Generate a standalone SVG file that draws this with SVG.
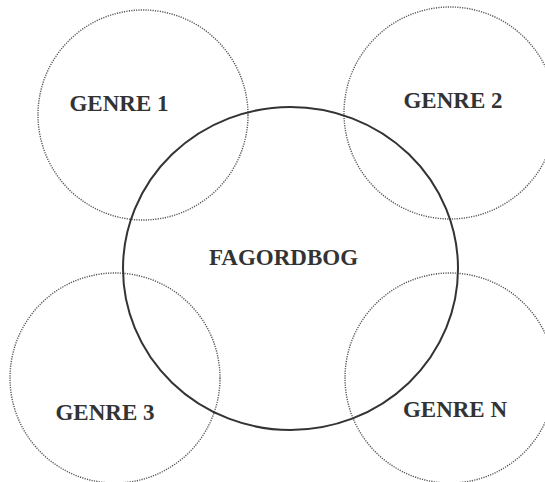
<svg xmlns="http://www.w3.org/2000/svg" width="545" height="482" viewBox="0 0 545 482">
<style>
.g{fill:none;stroke:#555;stroke-width:1.4;stroke-dasharray:1.2 1.2}
.m{fill:none;stroke:#333;stroke-width:2}
.t{font-family:"Liberation Serif",serif;font-weight:bold;font-size:23px;fill:#333;text-anchor:middle}
</style>
<rect width="545" height="482" fill="#fff"/>
<g id="genre1"><circle class="g" cx="143" cy="115" r="105"/><text class="t" x="119" y="111">GENRE 1</text></g>
<g id="genre2"><circle class="g" cx="450" cy="113" r="106"/><text class="t" x="453" y="108">GENRE 2</text></g>
<g id="genre3"><circle class="g" cx="115" cy="378" r="105"/><text class="t" x="105" y="420">GENRE 3</text></g>
<g id="genreN"><circle class="g" cx="450" cy="378" r="105"/><text class="t" x="455" y="417">GENRE N</text></g>
<g id="fagordbog"><ellipse class="m" cx="290.5" cy="268.5" rx="167.5" ry="161.5"/><text class="t" x="283.5" y="265">FAGORDBOG</text></g>
<g id="connectors"/>
</svg>
